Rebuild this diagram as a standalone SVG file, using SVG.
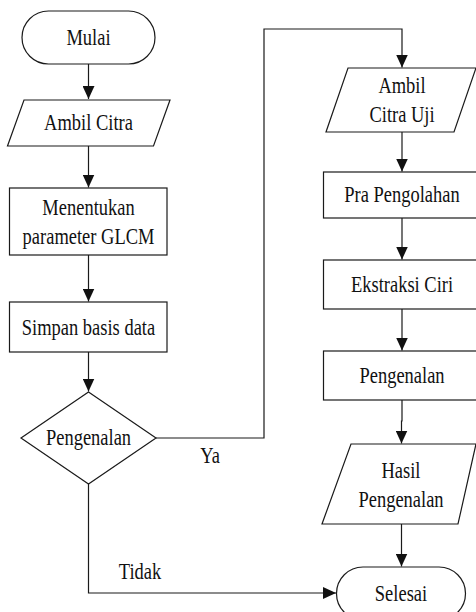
<svg xmlns="http://www.w3.org/2000/svg" width="476" height="612" viewBox="0 0 476 612" font-family="Liberation Serif, DejaVu Serif, serif">
<defs>
<style>
.s{fill:#fff;stroke:#1a1a1a;stroke-width:1.2}
.c{fill:none;stroke:#1a1a1a;stroke-width:1.2}
.t{font-family:'Liberation Serif','DejaVu Serif',serif;font-size:24px;fill:#111;text-anchor:middle}
</style>
<marker id="ah" markerUnits="userSpaceOnUse" markerWidth="14" markerHeight="12" viewBox="0 0 14 12" refX="13" refY="6" orient="auto">
<path d="M0,0 L13,6 L0,12 Z" fill="#111"/>
</marker>
</defs>
<rect width="476" height="612" fill="#fff"/>
<g id="connectors">
<path class="c" d="M88.5,64 V99" marker-end="url(#ah)"/>
<path class="c" d="M88.5,146 V187.5" marker-end="url(#ah)"/>
<path class="c" d="M88.5,255 V301.5" marker-end="url(#ah)"/>
<path class="c" d="M88.5,352 V391.5" marker-end="url(#ah)"/>
<path class="c" d="M156,438 H264 V29 H402 V67.5" marker-end="url(#ah)"/>
<path class="c" d="M88.5,484 V593 H336" marker-end="url(#ah)"/>
<path class="c" d="M402,132 V171.5" marker-end="url(#ah)"/>
<path class="c" d="M402,218 V259.5" marker-end="url(#ah)"/>
<path class="c" d="M402,309 V350.5" marker-end="url(#ah)"/>
<path class="c" d="M402,400 V421 H401.5 V443.5" marker-end="url(#ah)"/>
<path class="c" d="M401.5,524 V566.5" marker-end="url(#ah)"/>
<text class="t" font-family="Liberation Serif" transform="translate(210,463) scale(0.77,1)">Ya</text>
<text class="t" transform="translate(140,579) scale(0.77,1)">Tidak</text>
</g>
<g id="mulai">
<rect class="s" x="22" y="11" width="133" height="53" rx="26.5"/>
<text class="t" transform="translate(88.5,45) scale(0.77,1)">Mulai</text>
</g>
<g id="ambil-citra">
<polygon class="s" points="24,100 170,100 153.5,146 7.5,146"/>
<text class="t" transform="translate(88.5,130) scale(0.77,1)">Ambil Citra</text>
</g>
<g id="menentukan">
<rect class="s" x="9.5" y="188" width="157.5" height="67"/>
<text class="t" transform="translate(88.5,215) scale(0.77,1)">Menentukan</text>
<text class="t" transform="translate(88.5,244) scale(0.77,1)">parameter GLCM</text>
</g>
<g id="simpan">
<rect class="s" x="9.5" y="302" width="157.5" height="50"/>
<text class="t" transform="translate(88.5,335) scale(0.77,1)">Simpan basis data</text>
</g>
<g id="keputusan">
<polygon class="s" points="88.5,392 156,438 88.5,484 21,438"/>
<text class="t" transform="translate(88.5,445) scale(0.77,1)">Pengenalan</text>
</g>
<g id="ambil-citra-uji">
<polygon class="s" points="348,68 476,68 454,132 326,132"/>
<text class="t" transform="translate(402,93) scale(0.77,1)">Ambil</text>
<text class="t" transform="translate(402,122) scale(0.77,1)">Citra Uji</text>
</g>
<g id="pra-pengolahan">
<rect class="s" x="323.5" y="172" width="170" height="46"/>
<text class="t" transform="translate(402,202) scale(0.77,1)">Pra Pengolahan</text>
</g>
<g id="ekstraksi">
<rect class="s" x="323.5" y="260" width="170" height="49"/>
<text class="t" transform="translate(402,292) scale(0.77,1)">Ekstraksi Ciri</text>
</g>
<g id="pengenalan">
<rect class="s" x="323.5" y="351" width="170" height="49"/>
<text class="t" transform="translate(402,383) scale(0.77,1)">Pengenalan</text>
</g>
<g id="hasil">
<polygon class="s" points="351,444 476,444 458,524 322,524"/>
<text class="t" transform="translate(401,478) scale(0.77,1)">Hasil</text>
<text class="t" transform="translate(401,507) scale(0.77,1)">Pengenalan</text>
</g>
<g id="selesai">
<rect class="s" x="336.5" y="567" width="129" height="53" rx="26.5"/>
<text class="t" transform="translate(401,601) scale(0.77,1)">Selesai</text>
</g>
</svg>
